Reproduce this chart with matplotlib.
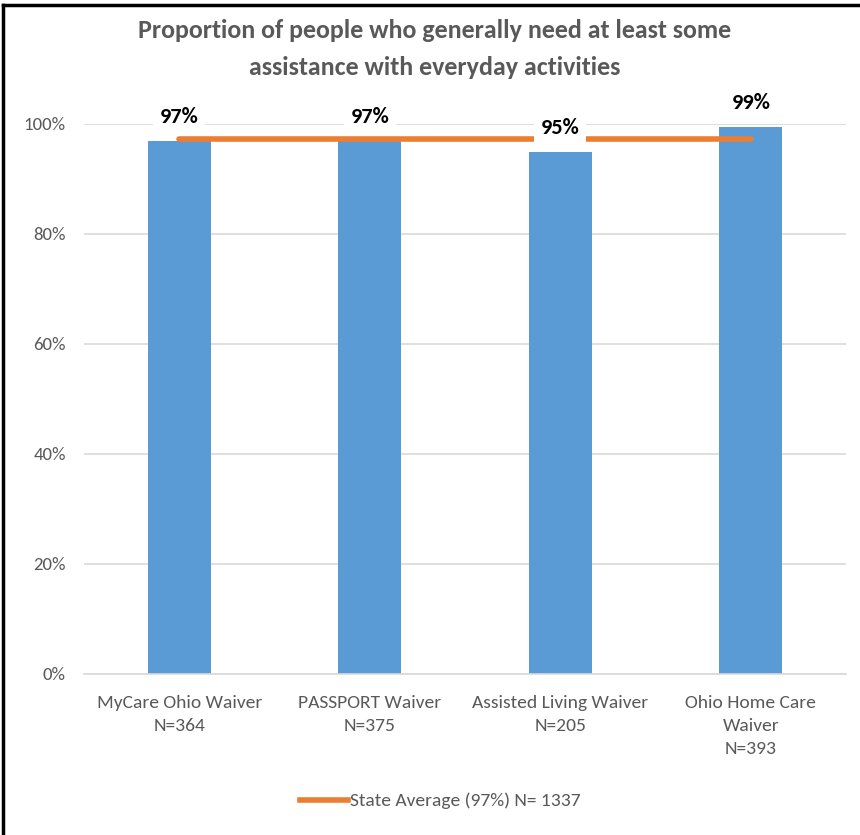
import matplotlib.pyplot as plt
import matplotlib.font_manager as fm
from matplotlib.lines import Line2D
from matplotlib.ticker import PercentFormatter

# chart data
categories = ["MyCare Ohio Waiver\nN=364", "PASSPORT Waiver\nN=375",
              "Assisted Living Waiver\nN=205", "Ohio Home Care\nWaiver\nN=393"]
values = [0.97, 0.97, 0.95, 0.995]
value_labels = ["97%", "97%", "95%", "99%"]
state_avg = 0.973
legend_label = "State Average (97%) N= 1337"
title = "Proportion of people who generally need at least some\nassistance with everyday activities"
yticks = [0, 0.2, 0.4, 0.6, 0.8, 1.0]

# Calibri-like font if available
installed = set(f.name for f in fm.fontManager.ttflist)
for fam in ["Carlito", "Open Sans Condensed", "Roboto Condensed", "Liberation Sans Narrow", "Liberation Sans"]:
    if fam in installed:
        break
plt.rcParams['font.family'] = [fam, 'DejaVu Sans']

fig = plt.figure(figsize=(8.6, 8.35), dpi=100)
ax = fig.add_axes([84 / 860, 1 - 674 / 835, 762 / 860, 550 / 835])

x = list(range(len(categories)))
ax.bar(x, values, width=0.33, color="#5B9BD5", zorder=2)
ax.plot(x, [state_avg] * len(x), color="#ED7D31", lw=4, solid_capstyle="round",
        zorder=3, clip_on=False)

for xi, v, lab in zip(x, values, value_labels):
    ax.annotate(lab, (xi, v), xytext=(0, 10), textcoords="offset points",
                ha="center", va="bottom", fontsize=16, fontweight="bold",
                color="#000000", zorder=5, annotation_clip=False,
                bbox=dict(boxstyle="square,pad=0.3", fc="white", ec="none"))

ax.set_xlim(-0.5, len(x) - 0.5)
ax.set_ylim(0, 1)
ax.set_yticks(yticks)
ax.yaxis.set_major_formatter(PercentFormatter(1.0, decimals=0))
ax.set_xticks(x)
ax.set_xticklabels(categories, linespacing=1.55)
ax.tick_params(axis="y", length=0, pad=13, labelsize=13.5, labelcolor="#595959")
ax.tick_params(axis="x", length=0, pad=15, labelsize=14, labelcolor="#595959")
ax.grid(axis="y", color="#d9d9d9", lw=1.2, zorder=0)
for side in ["top", "right", "left"]:
    ax.spines[side].set_visible(False)
ax.spines["bottom"].set_color("#d9d9d9")
ax.spines["bottom"].set_linewidth(1.2)

fig.text(0.505, 1 - 49 / 835, title, ha="center", va="center", fontsize=18.7,
         fontweight="bold", color="#595959", linespacing=1.75)

handle = Line2D([], [], color="#ED7D31", lw=4)
fig.legend([handle], [legend_label], loc="center", bbox_to_anchor=(0.512, 1 - 801 / 835),
           frameon=False, fontsize=14, handlelength=2.5, handletextpad=0.1,
           labelcolor="#595959")

# border on top and left edges
fig.add_artist(Line2D([0.004, 0.004], [0, 0.994], color="black", lw=2.5,
                      transform=fig.transFigure))
fig.add_artist(Line2D([0.004, 1], [0.994, 0.994], color="black", lw=2.5,
                      transform=fig.transFigure))

fig.savefig("out.png", dpi=100)
